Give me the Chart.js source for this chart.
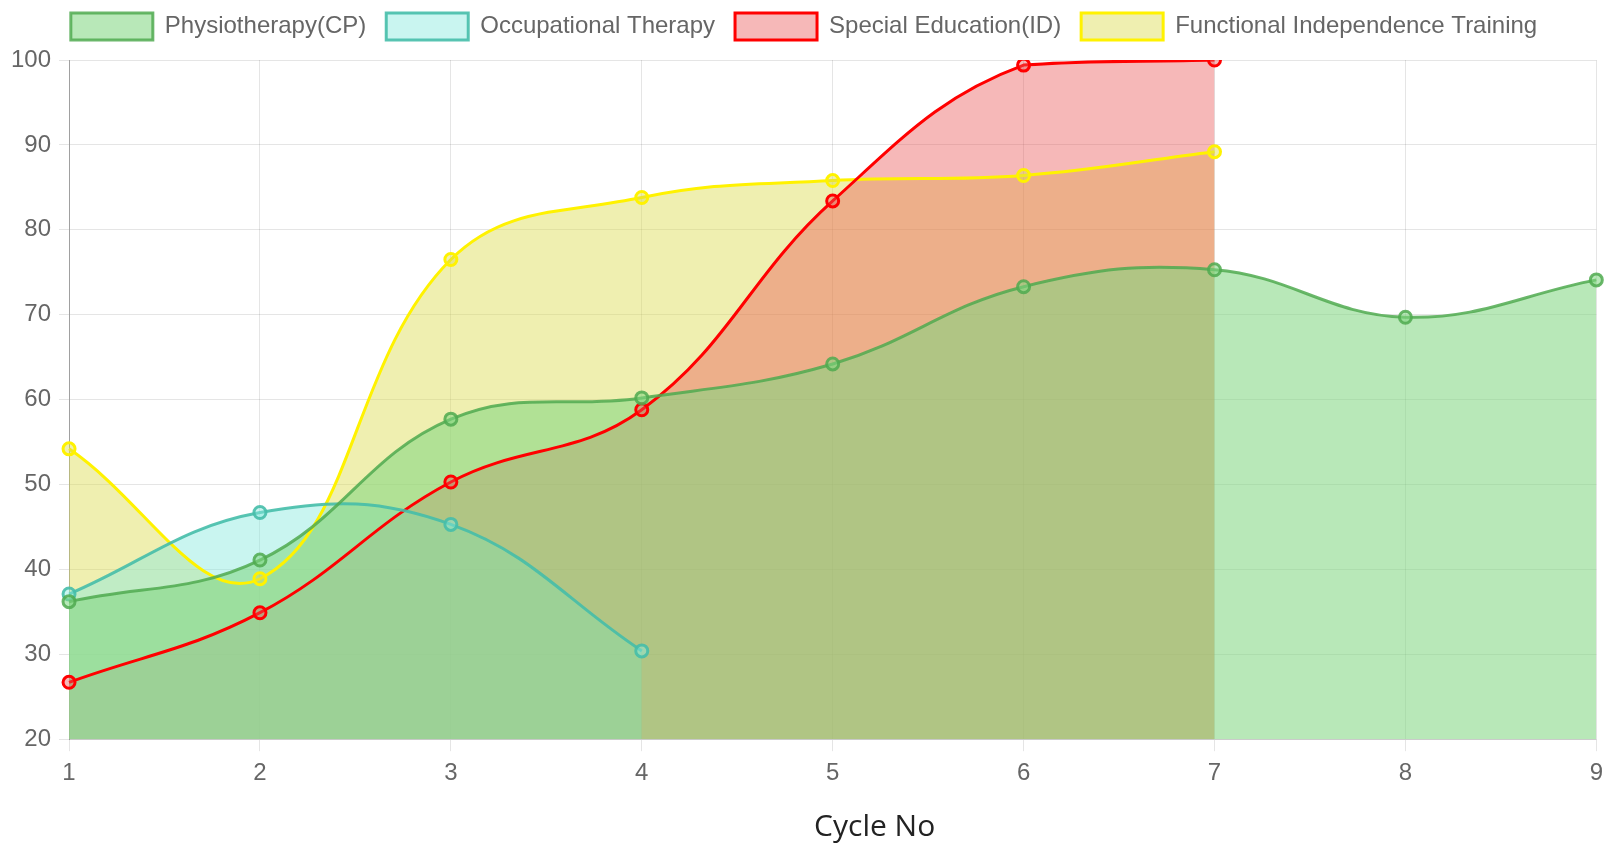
<!DOCTYPE html>
<html>
<head>
<meta charset="utf-8">
<script src="https://cdn.jsdelivr.net/npm/chart.js@4/dist/chart.umd.min.js"></script>
<style>
html,body{margin:0;padding:0;background:#fff;}
#wrap{width:1611px;height:853px;position:relative;}
</style>
</head>
<body>
<div id="wrap"><canvas id="c"></canvas></div>
<script>
const cycles = ['1','2','3','4','5','6','7','8','9'];
const physiotherapy = [36.2, 41.1, 57.7, 60.2, 64.2, 73.3, 75.3, 69.7, 74.1];
const occupational = [37.1, 46.7, 45.3, 30.4];
const specialEducation = [26.7, 34.9, 50.3, 58.8, 83.4, 99.4, 100];
const functionalIndependence = [54.2, 38.9, 76.5, 83.8, 85.8, 86.4, 89.2];
const yTicksMin = 20, yTicksMax = 100, yStep = 10;

function ds(label, data, border, fill) {
  return {
    label, data,
    borderColor: border, backgroundColor: fill,
    pointBackgroundColor: fill, pointBorderColor: border,
    borderWidth: 3, pointRadius: 6, pointBorderWidth: 3,
    fill: 'start', tension: 0.4
  };
}

const legendGap = {
  id: 'legendGap',
  beforeInit(chart) {
    const lg = chart.legend;
    if (!lg) return;
    const orig = lg.fit;
    lg.fit = function () { orig.call(this); this.height += 10; };
  }
};
const titleShift = {
  id: 'titleShift',
  afterLayout(chart) {
    const s = chart.scales.x;
    if (s && !s._shifted) {
      const orig = s.drawTitle;
      s.drawTitle = function () {
        const ctx = this.ctx; ctx.save(); ctx.translate(42, 0);
        orig.apply(this, arguments); ctx.restore();
      };
      s._shifted = true;
    }
  }
};

new Chart(document.getElementById('c'), {
  type: 'line',
  data: {
    labels: cycles,
    datasets: [
      ds('Physiotherapy(CP)', physiotherapy, 'rgba(80,170,80,0.85)', 'rgba(128,214,128,0.56)'),
      ds('Occupational Therapy', occupational, 'rgba(70,190,170,0.9)', 'rgba(138,233,222,0.46)'),
      ds('Special Education(ID)', specialEducation, 'rgba(255,0,0,1)', 'rgba(233,86,86,0.42)'),
      ds('Functional Independence Training', functionalIndependence, 'rgba(255,242,0,1)', 'rgba(220,220,80,0.45)')
    ]
  },
  plugins: [legendGap, titleShift],
  options: {
    responsive: true, maintainAspectRatio: false, animation: false,
    layout: { padding: { left: 3, right: 6, top: -7, bottom: 8 } },
    plugins: {
      filler: { drawTime: 'beforeDatasetsDraw' },
      legend: {
        labels: {
          boxWidth: 82, boxHeight: 27, padding: 20, color: '#666',
          font: { family: '"Liberation Sans", Arial, sans-serif', size: 24 }
        }
      },
      tooltip: { enabled: false }
    },
    scales: {
      x: {
        grid: { color: 'rgba(0,0,0,0.1)', tickLength: 12 },
        border: { color: 'rgba(0,0,0,0.12)' },
        ticks: { color: '#666', padding: 8, font: { family: '"Liberation Sans", Arial, sans-serif', size: 24 } },
        title: { display: true, text: 'Cycle No', color: '#222', padding: { top: 13, bottom: 0 },
                 font: { family: '"Open Sans", sans-serif', size: 30 } }
      },
      y: {
        min: yTicksMin, max: yTicksMax,
        grid: { color: 'rgba(0,0,0,0.1)', tickLength: 10 },
        border: { color: 'rgba(0,0,0,0.3)' },
        ticks: { stepSize: yStep, color: '#666', padding: 8, font: { family: '"Liberation Sans", Arial, sans-serif', size: 24 } }
      }
    }
  }
});
</script>
</body>
</html>
